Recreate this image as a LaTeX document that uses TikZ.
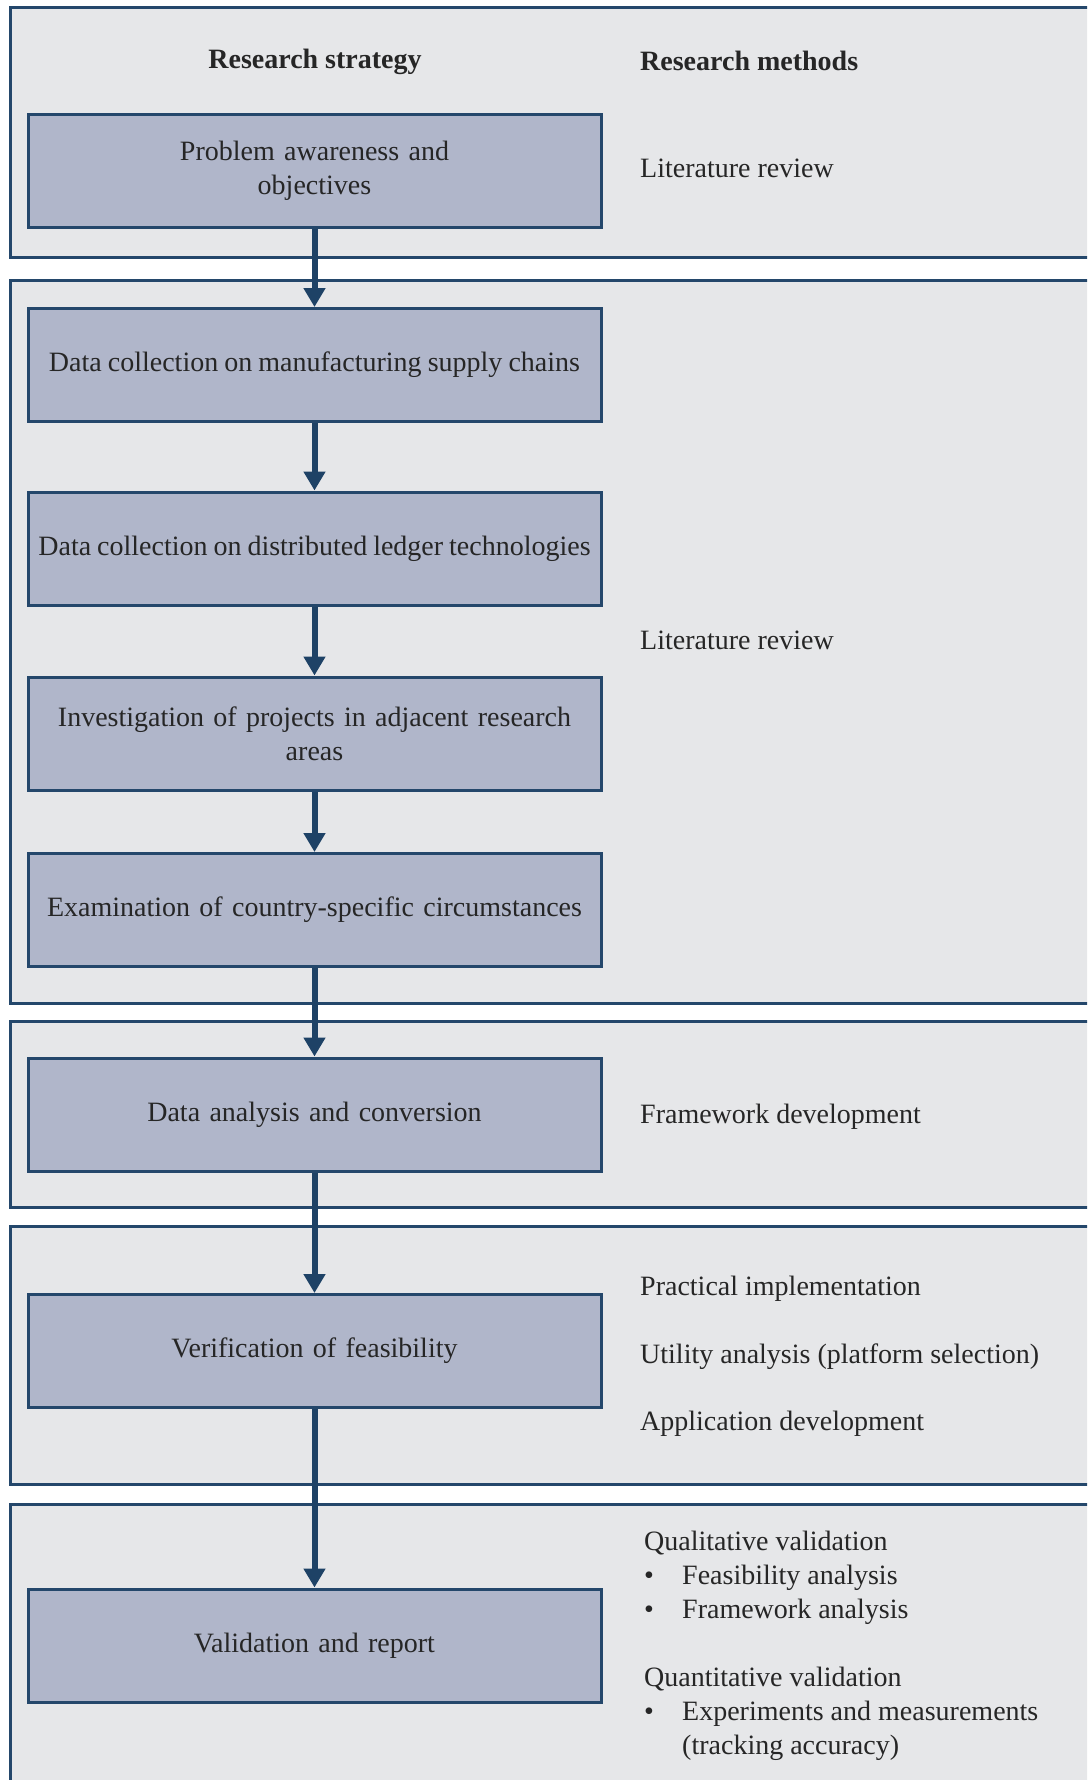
\documentclass[tikz,border=0pt]{standalone}
\usepackage{fontspec}
\setmainfont{Liberation Serif}
\usetikzlibrary{arrows.meta}
\definecolor{panelfill}{HTML}{E6E7E9}
\definecolor{boxfill}{HTML}{B0B6CA}
\definecolor{edge}{HTML}{24476B}
\definecolor{flow}{HTML}{1E4266}
\definecolor{ink}{HTML}{262626}
% narrower interword space for the long step labels
\newcommand{\tightspace}{\spaceskip=0.21em plus 0.02em\relax}
\begin{document}
\begin{tikzpicture}[x=1pt,y=-1pt,
  every node/.style={text=ink, font=\fontsize{28}{34}\selectfont, inner sep=0pt},
  panel/.style={draw=edge, fill=panelfill, line width=3pt},
  stepbox/.style={draw=edge, fill=boxfill, line width=3pt, minimum width=573pt,
    minimum height=113pt, align=center, text width=568pt},
  heading/.style={font=\fontsize{28}{34}\selectfont\bfseries, text height=20pt, text depth=6pt},
  method/.style={anchor=west, text height=20pt, text depth=6pt},
  flowarrow/.style={draw=flow, line width=6pt, -{Triangle[width=21pt,length=19pt]}}]
\useasboundingbox (0,0) rectangle (1087,1780);
\clip (0,0) rectangle (1087,1780);
% phase panels (open to the right and bottom)
\draw[panel] (10,7) rectangle (1110,257);
\draw[panel] (10,280) rectangle (1110,1003);
\draw[panel] (10,1021) rectangle (1110,1207);
\draw[panel] (10,1226) rectangle (1110,1484);
\draw[panel] (10,1504) rectangle (1110,1820);
% column headings
\node[heading] (hstrat) at (315,61) {Research strategy};
\node[heading, anchor=west] (hmeth) at (640,63) {Research methods};
% strategy steps
\node[stepbox] (s1) at (314.5,170.5) {Problem awareness and\\objectives};
\node[stepbox] (s2) at (314.5,365) {\tightspace Data collection on manufacturing supply chains};
\node[stepbox] (s3) at (314.5,548.5) {\tightspace Data collection on distributed ledger technologies};
\node[stepbox] (s4) at (314.5,733.5) {Investigation of projects in adjacent research\\areas};
\node[stepbox] (s5) at (314.5,910) {Examination of country-specific circumstances};
\node[stepbox] (s6) at (314.5,1114.5) {Data analysis and conversion};
\node[stepbox] (s7) at (314.5,1351) {Verification of feasibility};
\node[stepbox] (s8) at (314.5,1645.5) {Validation and report};
% flow between steps
\foreach \a/\b in {s1/s2,s2/s3,s3/s4,s4/s5,s5/s6,s6/s7,s7/s8}
  \draw[flowarrow] (\a.south) -- (\b.north);
% research methods
\node[method] (m1) at (640,170) {Literature review};
\node[method] (m2) at (640,642) {Literature review};
\node[method] (m3) at (640,1116) {Framework development};
\node[method] (m4) at (640,1288) {Practical implementation};
\node[method] (m5) at (640,1356) {Utility analysis (platform selection)};
\node[method] (m6) at (640,1423) {Application development};
\node[method] (m7) at (644,1543) {Qualitative validation};
\node[method] (b1) at (644,1577) {\textbullet};
\node[method] (m8) at (682,1577) {Feasibility analysis};
\node[method] (b2) at (644,1611) {\textbullet};
\node[method] (m9) at (682,1611) {Framework analysis};
\node[method] (m10) at (644,1679) {Quantitative validation};
\node[method] (b3) at (644,1713) {\textbullet};
\node[method] (m11) at (682,1713) {Experiments and measurements};
\node[method] (m12) at (682,1747) {(tracking accuracy)};
\end{tikzpicture}
\end{document}
